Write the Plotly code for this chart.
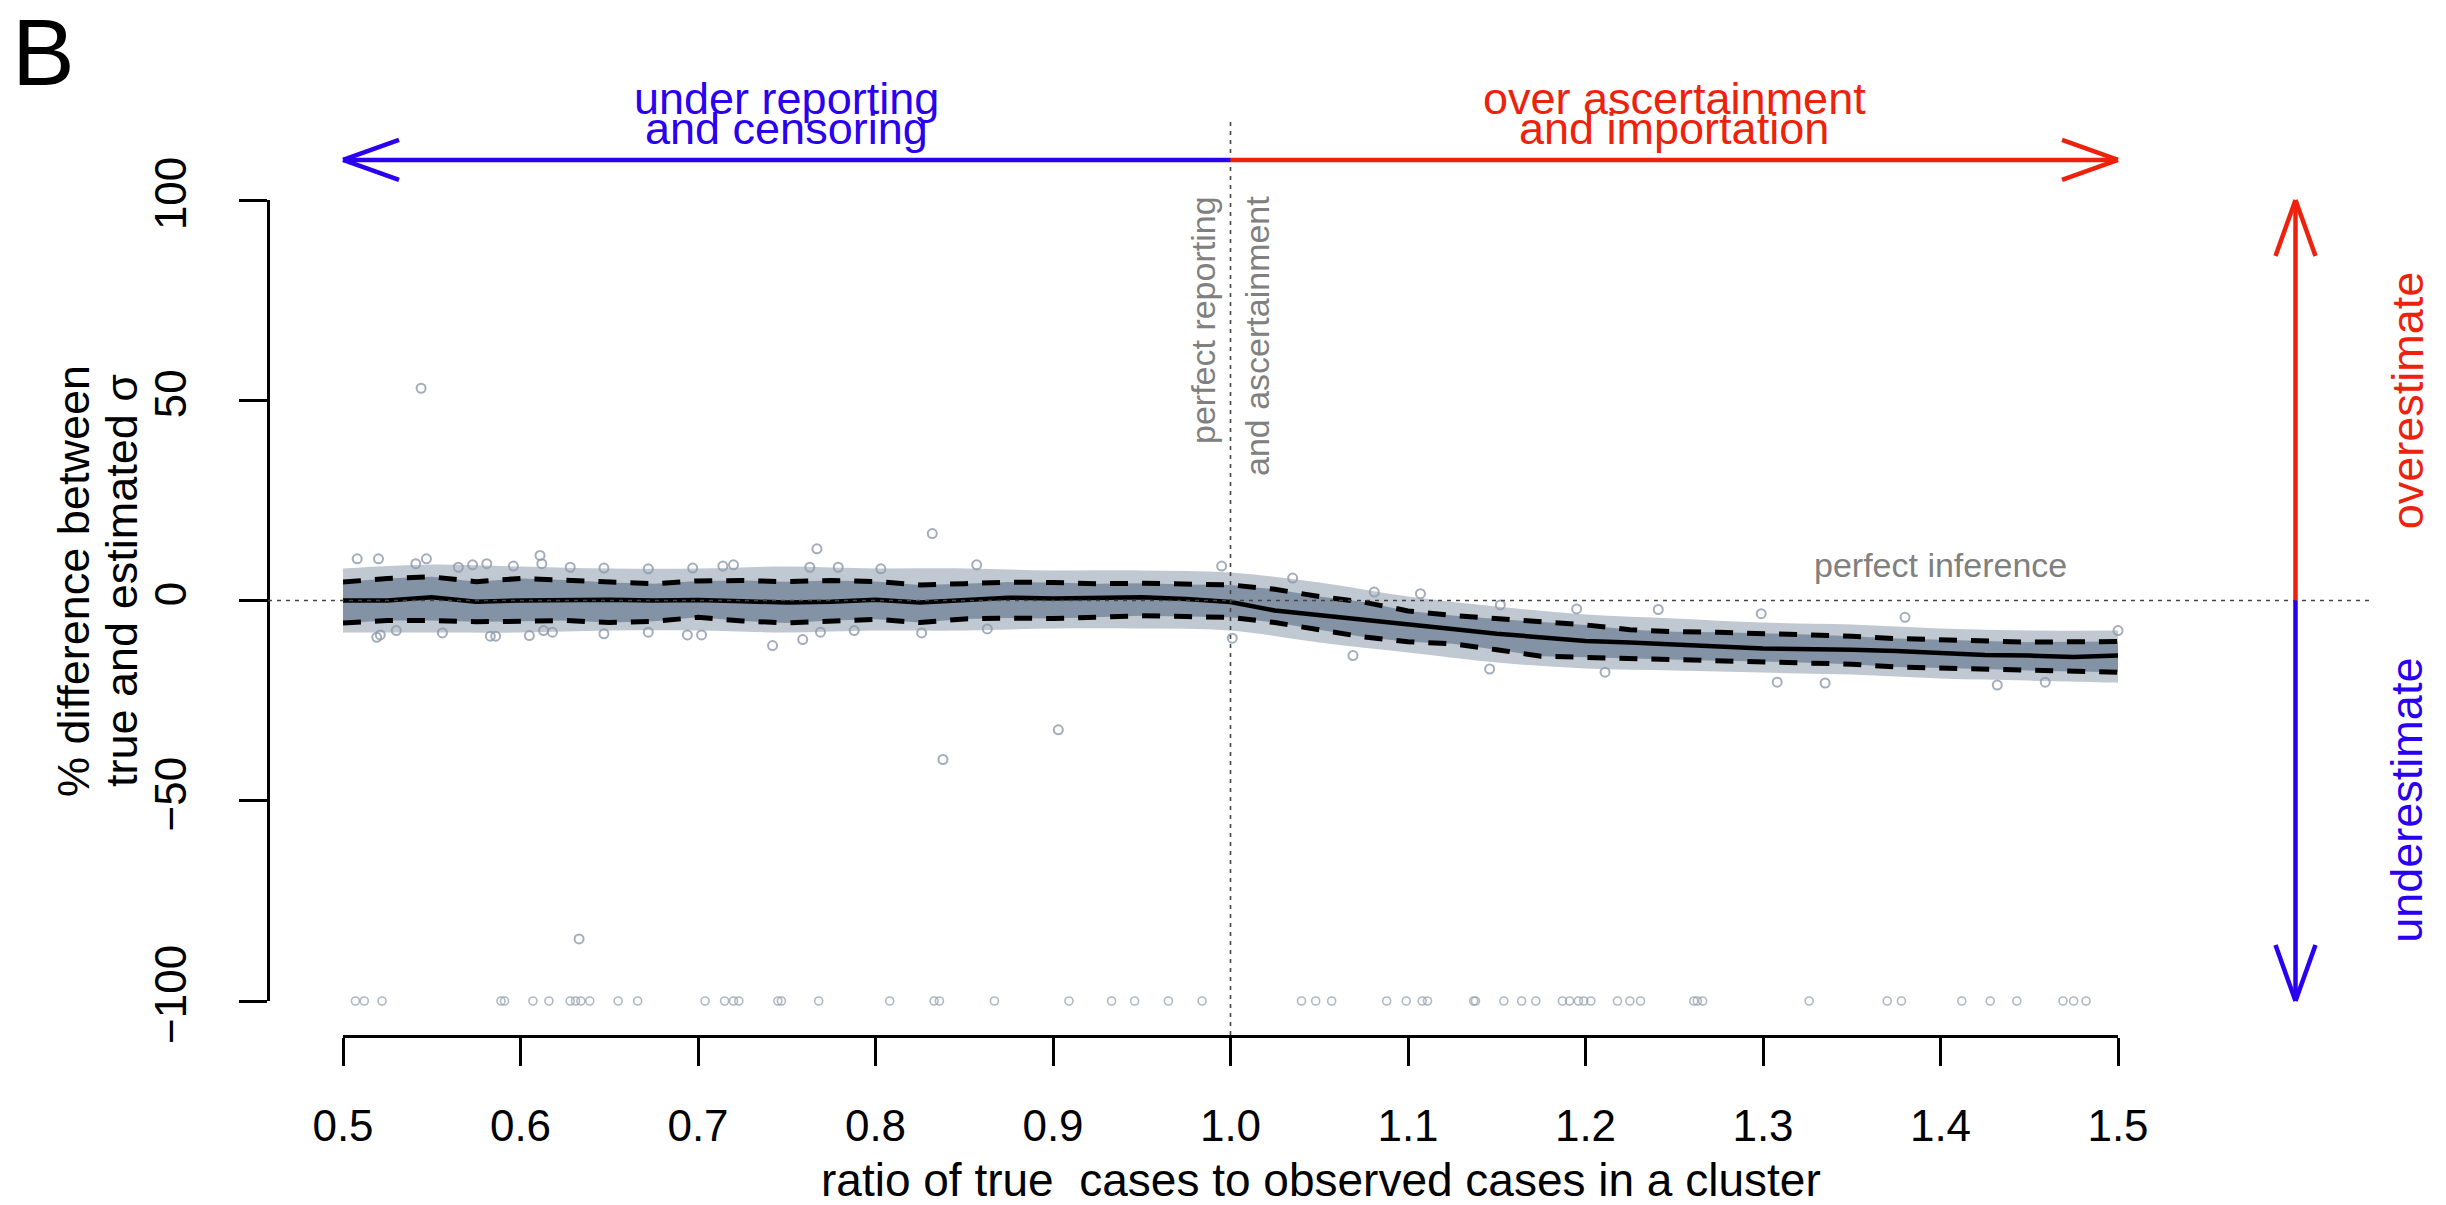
import plotly.graph_objects as go

# ---- summary curves of % difference vs ratio of true/observed cases ----
ratio = [0.500, 0.525, 0.550, 0.575, 0.600, 0.625, 0.650, 0.675, 0.700, 0.725,
         0.750, 0.775, 0.800, 0.825, 0.850, 0.875, 0.900, 0.925, 0.950, 0.975,
         1.000, 1.025, 1.050, 1.075, 1.100, 1.125, 1.150, 1.175, 1.200, 1.225,
         1.250, 1.275, 1.300, 1.325, 1.350, 1.375, 1.400, 1.425, 1.450, 1.475,
         1.500]
mean_pct = [0.0, 0.0, 0.8, -0.3, 0.0, 0.1, 0.2, 0.0, 0.1, -0.2,
            -0.5, -0.3, 0.2, -0.5, 0.2, 0.7, 0.5, 0.6, 0.8, 0.4,
            -0.4, -2.5, -3.6, -4.9, -6.0, -7.1, -8.3, -9.2, -10.1, -10.5,
            -11.1, -11.5, -12.0, -12.1, -12.3, -12.6, -13.2, -13.6, -13.75, -14.1,
            -13.75]
upper_pct = [4.6, 5.5, 5.9, 4.7, 5.5, 5.1, 4.5, 4.2, 4.9, 5.0,
             4.7, 5.0, 4.75, 3.9, 4.2, 4.6, 4.5, 4.2, 4.3, 4.0,
             3.9, 2.8, 1.0, -0.4, -2.6, -3.75, -4.6, -5.4, -6.1, -7.3,
             -7.8, -7.95, -8.2, -8.5, -8.9, -9.5, -9.8, -10.1, -10.4, -10.3,
             -10.25]
lower_pct = [-5.6, -5.0, -5.0, -5.3, -5.2, -5.0, -5.5, -5.2, -4.2, -5.1,
             -5.6, -5.0, -4.7, -5.5, -4.6, -4.4, -4.5, -4.2, -3.8, -4.0,
             -4.2, -5.5, -7.3, -9.1, -10.3, -10.8, -12.3, -13.9, -14.2, -14.5,
             -14.8, -15.05, -15.2, -15.5, -15.9, -16.6, -16.8, -17.1, -17.5, -17.7,
             -17.9]

# ---- extent of the dense cloud of individual estimates ----
cloud_ratio = [0.50, 0.55, 0.60, 0.65, 0.70, 0.75, 0.80, 0.85, 0.90, 0.95,
               1.00, 1.05, 1.10, 1.15, 1.20, 1.25, 1.30, 1.35, 1.40, 1.45, 1.50]
cloud_hi = [8.0, 9.0, 8.5, 8.0, 8.0, 8.5, 8.0, 8.0, 7.5, 7.5,
            7.0, 4.5, 1.0, -1.5, -3.5, -4.5, -5.5, -6.0, -7.0, -7.5, -7.5]
cloud_lo = [-8.0, -8.0, -8.0, -7.5, -7.5, -8.0, -7.5, -7.5, -7.0, -7.0,
            -7.5, -10.5, -13.0, -15.5, -17.0, -17.5, -18.0, -18.5, -19.5, -20.0, -20.5]

# ---- single estimates scattered along the rim of the cloud ----
rim_ratio = [0.508, 0.520, 0.541, 0.547, 0.519, 0.521, 0.530, 0.556, 0.565, 0.573,
             0.581, 0.583, 0.586, 0.596, 0.605, 0.611, 0.612, 0.613, 0.618, 0.628,
             0.647, 0.647, 0.672, 0.672, 0.694, 0.697, 0.702, 0.714, 0.720, 0.742,
             0.759, 0.763, 0.769, 0.779, 0.788, 0.803, 0.826, 0.857, 0.863,
             0.995, 1.001, 1.035, 1.107, 1.081, 1.069, 1.146, 1.152, 1.195, 1.211,
             1.241, 1.299, 1.308, 1.335, 1.380, 1.432, 1.459, 1.500]
rim_pct = [10.4, 10.4, 9.2, 10.4, -9.2, -8.6, -7.5, -8.1, 8.3, 8.9,
           9.2, -8.9, -8.9, 8.6, -8.75, 11.25, 9.2, -7.5, -7.9, 8.3,
           8.1, -8.3, 7.9, -7.9, -8.6, 8.1, -8.6, 8.6, 8.9, -11.25,
           -9.75, 8.3, -7.9, 8.3, -7.5, 7.9, -8.1, 8.9, -7.1,
           8.6, -9.4, 5.6, 1.7, 2.1, -13.75, -17.1, -1.1, -2.1, -17.9,
           -2.25, -3.3, -20.4, -20.6, -4.2, -21.1, -20.4, -7.5]

# ---- isolated estimates away from the cloud ----
outlier_ratio = [0.544, 0.767, 0.832, 0.838, 0.903, 0.633]
outlier_pct = [53.0, 12.9, 16.7, -39.7, -32.3, -84.5]

# failed fits pinned at -100 %
floor_ratio = [0.507, 0.512, 0.522, 0.589, 0.591, 0.607, 0.616, 0.628, 0.631, 0.634,
               0.639, 0.655, 0.666, 0.704, 0.715, 0.720, 0.723, 0.745, 0.747, 0.768,
               0.808, 0.833, 0.836, 0.867, 0.909, 0.933, 0.946, 0.965, 0.984,
               1.040, 1.048, 1.057, 1.088, 1.099, 1.108, 1.111, 1.137, 1.138, 1.154,
               1.164, 1.172, 1.187, 1.191, 1.196, 1.199, 1.203, 1.218, 1.225, 1.231,
               1.261, 1.263, 1.266, 1.326, 1.370, 1.378, 1.412, 1.428, 1.443, 1.469,
               1.475, 1.482]
floor_pct = [-100.0] * len(floor_ratio)

x_ticks = [0.5, 0.6, 0.7, 0.8, 0.9, 1.0, 1.1, 1.2, 1.3, 1.4, 1.5]
x_ticktext = ["0.5", "0.6", "0.7", "0.8", "0.9", "1.0", "1.1", "1.2", "1.3", "1.4", "1.5"]
y_ticks = [-100, -50, 0, 50, 100]

# ---- page geometry (pixels) ----
W, H = 2446, 1205
PX_X05, PX_X15 = 343, 2118          # x = 0.5 and x = 1.5
PX_Y100, PX_YM100 = 200, 1001       # y = 100 and y = -100
PX_BOX_L, PX_BOX_R = 268, 2374      # plot region
PX_BOX_T, PX_BOX_B = 122, 1036

ppx = (PX_X15 - PX_X05) / 1.0
ppy = (PX_YM100 - PX_Y100) / 200.0
py0 = (PX_Y100 + PX_YM100) / 2.0


def dx(px):
    return 0.5 + (px - PX_X05) / ppx


def dy(px):
    return (py0 - px) / ppy


FONT = "Liberation Sans, Arial, Helvetica, sans-serif"
BLUE = "#2a00f0"
RED = "#ee220c"
GREY_TXT = "#808080"
CLOUD_OUT = "rgba(140,154,172,0.55)"
CLOUD_IN = "rgba(128,143,162,0.95)"
POINT = "rgba(140,152,170,0.8)"

fig = go.Figure()

# outer sparse cloud
fig.add_trace(go.Scatter(x=cloud_ratio, y=cloud_lo, mode="lines", line=dict(width=0, shape="spline"),
                         xaxis="x2", yaxis="y2", hoverinfo="skip"))
fig.add_trace(go.Scatter(x=cloud_ratio, y=cloud_hi, mode="lines", line=dict(width=0, shape="spline"),
                         fill="tonexty", fillcolor=CLOUD_OUT, xaxis="x2", yaxis="y2", hoverinfo="skip"))
# dense core between the quantile curves
fig.add_trace(go.Scatter(x=ratio, y=lower_pct, mode="lines", line=dict(width=0),
                         xaxis="x2", yaxis="y2", hoverinfo="skip"))
fig.add_trace(go.Scatter(x=ratio, y=upper_pct, mode="lines", line=dict(width=0),
                         fill="tonexty", fillcolor=CLOUD_IN, xaxis="x2", yaxis="y2", hoverinfo="skip"))

# single points: rim of the cloud, isolated ones, and the -100 % floor
point_marker = dict(symbol="circle-open", size=9, color=POINT, line=dict(width=2))
fig.add_trace(go.Scatter(x=rim_ratio, y=rim_pct, mode="markers", marker=point_marker,
                         xaxis="x2", yaxis="y2", cliponaxis=False))
fig.add_trace(go.Scatter(x=outlier_ratio, y=outlier_pct, mode="markers", marker=point_marker,
                         xaxis="x2", yaxis="y2", cliponaxis=False))
fig.add_trace(go.Scatter(x=floor_ratio, y=floor_pct, mode="markers",
                         marker=dict(symbol="circle-open", size=8, color="rgba(150,160,176,0.75)",
                                     line=dict(width=1.6)),
                         xaxis="x2", yaxis="y2", cliponaxis=False))

# quantile curves and mean
for series in (upper_pct, lower_pct):
    fig.add_trace(go.Scatter(x=ratio, y=series, mode="lines",
                             line=dict(color="black", width=5, dash="18px,14px"),
                             xaxis="x2", yaxis="y2"))
fig.add_trace(go.Scatter(x=ratio, y=mean_pct, mode="lines",
                         line=dict(color="black", width=4.5), xaxis="x2", yaxis="y2"))

shapes = []
# reference lines
shapes.append(dict(type="line", xref="x", yref="y", x0=dx(PX_BOX_L), x1=dx(PX_BOX_R), y0=0, y1=0,
                   line=dict(color="#444444", width=1.6, dash="4px,5px")))
shapes.append(dict(type="line", xref="x", yref="y", x0=1.0, x1=1.0, y0=dy(PX_BOX_T), y1=dy(PX_BOX_B),
                   line=dict(color="#444444", width=1.6, dash="4px,5px")))

# direction arrows
ARROW_Y = 110
ARROW_X = 1.6
HEAD_ALONG, HEAD_PERP = 56, 20   # pixels
LW = 4.5


def seg(x0, y0, x1, y1, color):
    shapes.append(dict(type="line", xref="x", yref="y", x0=x0, y0=y0, x1=x1, y1=y1,
                       line=dict(color=color, width=LW)))


seg(0.5, ARROW_Y, 1.0, ARROW_Y, BLUE)
seg(1.0, ARROW_Y, 1.5, ARROW_Y, RED)
for s in (1, -1):
    seg(0.5, ARROW_Y, 0.5 + HEAD_ALONG / ppx, ARROW_Y + s * HEAD_PERP / ppy, BLUE)
    seg(1.5, ARROW_Y, 1.5 - HEAD_ALONG / ppx, ARROW_Y + s * HEAD_PERP / ppy, RED)

seg(ARROW_X, 0, ARROW_X, 100, RED)
seg(ARROW_X, 0, ARROW_X, -100, BLUE)
for s in (1, -1):
    seg(ARROW_X, 100, ARROW_X + s * HEAD_PERP / ppx, 100 - HEAD_ALONG / ppy, RED)
    seg(ARROW_X, -100, ARROW_X + s * HEAD_PERP / ppx, -100 + HEAD_ALONG / ppy, BLUE)

ann = []


def label(text, x, y, size, color="black", angle=0, xanchor="center", yanchor="middle"):
    ann.append(dict(text=text, x=x, y=y, xref="x", yref="y", showarrow=False,
                    textangle=angle, xanchor=xanchor, yanchor=yanchor,
                    font=dict(family=FONT, size=size, color=color)))


label("B", dx(43), dy(52), 94)
label("under reporting", 0.75, dy(98), 45, BLUE)
label("and censoring", 0.75, dy(128), 45, BLUE)
label("over ascertainment", 1.25, dy(98), 45, RED)
label("and importation", 1.25, dy(128), 45, RED)
label("perfect reporting", dx(1203), dy(194), 34, GREY_TXT, angle=-90, yanchor="top")
label("and ascertainment", dx(1257), dy(194), 34, GREY_TXT, angle=-90, yanchor="top")
label("perfect inference", 1.40, dy(565), 34, GREY_TXT)
label("overestimate", dx(2407), 50, 45, RED, angle=-90)
label("underestimate", dx(2407), -50, 45, BLUE, angle=-90)
label("% difference between", dx(73), dy(581), 45, angle=-90)
label("true and estimated σ", dx(121), dy(581), 45, angle=-90)
label("ratio of true\u00a0 cases to observed cases in a cluster", dx((PX_BOX_L + PX_BOX_R) / 2), dy(1180), 46)

axis_style = dict(showline=True, linecolor="black", linewidth=2.5, ticks="outside", ticklen=28,
                  tickwidth=2.5, tickcolor="black", showgrid=False, zeroline=False,
                  tickfont=dict(family=FONT, size=44, color="black"), automargin=False,
                  fixedrange=True)

fig.update_layout(
    width=W, height=H,
    margin=dict(l=0, r=0, t=0, b=0),
    paper_bgcolor="white", plot_bgcolor="rgba(0,0,0,0)",
    showlegend=False,
    xaxis=dict(domain=[0, 1], range=[dx(0), dx(W)], visible=False, fixedrange=True),
    yaxis=dict(domain=[0, 1], range=[dy(H), dy(0)], visible=False, fixedrange=True),
    xaxis2=dict(domain=[PX_X05 / W, PX_X15 / W], range=[0.5, 1.5], anchor="free",
                position=(H - PX_BOX_B) / H, tickvals=x_ticks, ticktext=x_ticktext,
                ticklabelstandoff=22, **axis_style),
    yaxis2=dict(domain=[(H - PX_YM100) / H, (H - PX_Y100) / H], range=[-100, 100], anchor="free",
                position=PX_BOX_L / W, tickvals=y_ticks, tickangle=-90,
                ticklabelstandoff=36, **axis_style),
    shapes=shapes,
    annotations=ann,
)

fig.write_html("out.html")
